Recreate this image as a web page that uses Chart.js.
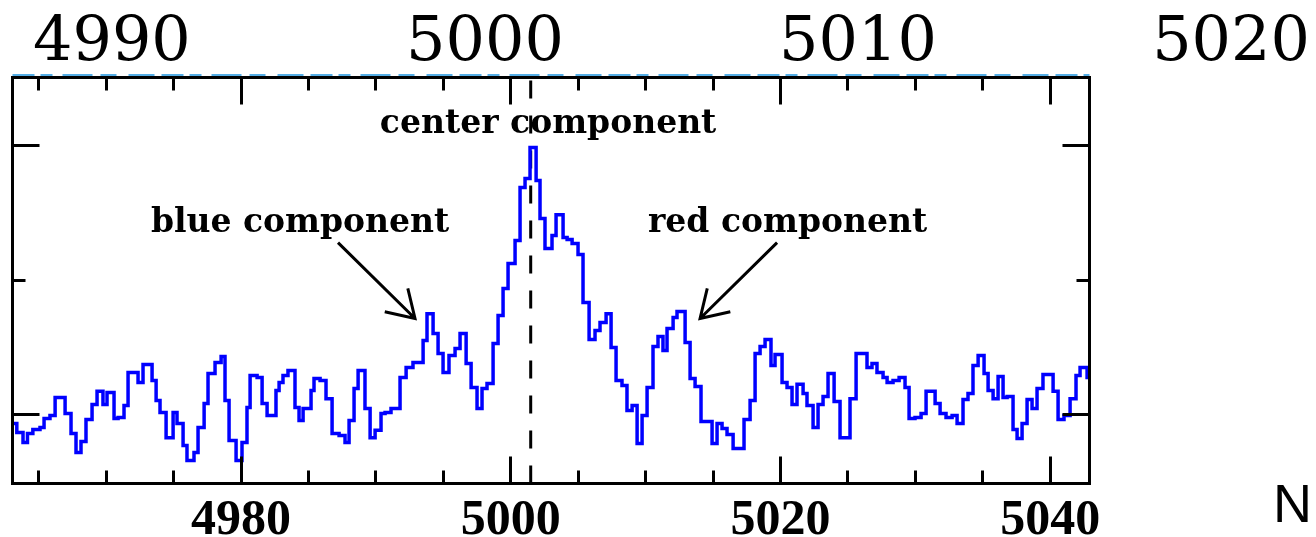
<!DOCTYPE html>
<html>
<head>
<meta charset="utf-8">
<script src="https://cdn.jsdelivr.net/npm/chart.js@4.4.0/dist/chart.umd.min.js"></script>
<style>
html,body{margin:0;padding:0;background:#fff;overflow:hidden}
#wrap{width:1316px;height:537px;position:relative}
</style>
</head>
<body>
<div id="wrap"><canvas id="c" width="1316" height="537"></canvas></div>
<script>
// ---- data (wavelength of left bin edge in Angstrom, normalised flux) ----
const wavelength = [
4963.06,4963.37,4963.83,4964.16,4964.56,4965.09,4965.39,4965.83,4966.21,4966.95,
4967.39,4967.76,4968.13,4968.50,4968.95,4969.32,4969.76,4970.06,4970.58,4970.88,
4971.32,4971.62,4972.36,4972.73,4973.40,4973.70,4973.99,4974.44,4974.96,4975.25,
4975.70,4975.99,4976.51,4976.81,4977.26,4977.55,4978.07,4978.52,4978.81,4979.11,
4979.63,4980.07,4980.44,4980.67,4981.19,4981.56,4981.93,4982.59,4982.82,4983.11,
4983.48,4984.00,4984.30,4984.60,4985.19,4985.41,4985.86,4986.30,4986.75,4987.27,
4987.71,4988.01,4988.38,4988.68,4989.19,4989.57,4989.94,4990.38,4990.68,4991.12,
4991.79,4992.24,4992.75,4993.50,4993.79,4994.24,4994.61,4994.98,4995.42,4995.87,
4996.24,4996.69,4997.06,4997.50,4997.87,4998.24,4998.69,4999.06,4999.43,4999.80,
5000.32,5000.69,5001.06,5001.43,5001.88,5002.17,5002.54,5003.06,5003.36,5003.88,
5004.18,5004.55,5004.99,5005.36,5005.81,5006.25,5006.62,5007.07,5007.44,5007.81,
5008.25,5008.62,5009.00,5009.37,5009.74,5010.11,5010.55,5010.92,5011.29,5011.59,
5012.04,5012.33,5012.93,5013.30,5013.67,5014.11,5014.93,5015.30,5015.67,5016.04,
5016.49,5017.30,5017.75,5018.12,5018.49,5018.86,5019.30,5019.60,5020.12,5020.49,
5020.86,5021.23,5021.68,5021.97,5022.42,5022.79,5023.16,5023.53,5023.98,5024.42,
5025.16,5025.61,5026.42,5026.79,5027.16,5027.61,5027.91,5028.35,5028.80,5029.24,
5029.54,5029.98,5030.43,5030.80,5031.47,5031.84,5032.28,5032.73,5033.10,5033.54,
5033.91,5034.28,5034.66,5035.10,5035.40,5035.77,5036.14,5036.51,5036.81,5037.25,
5037.55,5037.92,5038.29,5038.66,5039.03,5039.47,5040.22,5040.59,5041.03,5041.48,
5041.92,5042.22,5042.74
];
const flux = [
0.967,0.933,0.896,0.929,0.944,0.952,0.985,0.996,1.063,1.004,
0.929,0.859,0.900,0.981,1.037,1.086,1.037,1.082,0.985,0.989,
1.033,1.156,1.119,1.186,1.126,1.052,1.007,0.914,1.007,0.967,
0.885,0.829,0.859,0.952,1.041,1.152,1.193,1.216,1.052,0.903,
0.829,0.896,1.026,1.145,1.138,1.041,0.996,1.089,1.119,1.145,
1.164,1.026,0.978,1.022,1.089,1.134,1.126,1.059,0.929,0.922,
0.896,0.978,1.097,1.164,1.022,0.914,0.941,1.004,1.007,1.022,
1.138,1.175,1.193,1.275,1.375,1.301,1.227,1.156,1.219,1.245,
1.301,1.190,1.100,1.022,1.097,1.115,1.264,1.368,1.468,1.561,
1.647,1.844,1.877,1.993,1.870,1.729,1.617,1.665,1.743,1.658,
1.651,1.636,1.595,1.416,1.279,1.312,1.342,1.375,1.249,1.126,
1.108,1.015,1.033,0.892,0.996,1.100,1.253,1.290,1.238,1.320,
1.361,1.383,1.268,1.134,1.104,0.974,0.892,0.967,0.948,0.926,
0.874,0.981,1.052,1.227,1.253,1.279,1.182,1.223,1.119,1.100,
1.037,1.112,1.078,1.033,0.952,1.037,1.067,1.152,1.048,0.914,
1.059,1.227,1.175,1.190,1.156,1.138,1.119,1.126,1.138,1.100,
0.985,0.989,1.004,1.086,1.041,1.004,0.989,0.996,0.967,1.056,
1.078,1.182,1.219,1.152,1.089,1.059,1.141,1.063,1.067,0.944,
0.911,0.967,1.056,1.022,1.097,1.149,1.086,0.981,0.996,1.059,
1.145,1.175,1.138
];
const xMin = 4963.05, xMax = 5042.92;
const yMin = 0.7435, yMax = 2.2528;
const xMinorTicks = [4965,4970,4975,4980,4985,4990,4995,5000,5005,5010,5015,5020,5025,5030,5035,5040];
const xTickLabels = [4980,5000,5020,5040];
const yMajorTicks = [1.0, 2.0];
const yMinorTicks = [1.5];
const topTickLabels = [4990,5000,5010,5020];
const topMin = 4987.335, topMax = 5016.206;
const centerLine = 5001.48;
const annotations = [
  {text:'blue component', x:4984.38, y:1.677},
  {text:'red component', x:5020.53, y:1.677},
  {text:'center component', x:5002.77, y:2.048}
];
const arrows = [
  {x1:4987.19, y1:1.639, x2:4992.90, y2:1.357},
  {x1:5019.75, y1:1.639, x2:5014.04, y2:1.357}
];
const cornerText = 'N';

const specData = wavelength.map((w,i)=>({x:w, y:flux[i]}));
specData.push({x:xMax, y:flux[flux.length-1]});

const crisp = v => Math.round(v - 0.5) + 0.5;

const decor = {
  id:'decor',
  afterDraw(chart){
    const ctx = chart.ctx, a = chart.chartArea;
    const x = chart.scales.x, y = chart.scales.y, x2 = chart.scales.x2;
    ctx.save();
    // faint blue strip along top edge
    ctx.strokeStyle = '#55aee6'; ctx.lineWidth = 3;
    ctx.setLineDash([22,6,12,10,30,8,16,12,26,7]);
    ctx.beginPath(); ctx.moveTo(a.left, a.top-2); ctx.lineTo(a.right, a.top-2); ctx.stroke();
    ctx.setLineDash([]);
    // frame
    ctx.strokeStyle = '#000'; ctx.lineWidth = 3; ctx.lineCap = 'butt';
    ctx.strokeRect(a.left, a.top, a.right-a.left, a.bottom-a.top);
    // ticks
    ctx.beginPath();
    xMinorTicks.forEach(v=>{
      const px = crisp(x.getPixelForValue(v));
      const len = xTickLabels.includes(v) ? 27 : 13;
      ctx.moveTo(px, a.bottom); ctx.lineTo(px, a.bottom-len);
      ctx.moveTo(px, a.top); ctx.lineTo(px, a.top+len);
    });
    yMajorTicks.forEach(v=>{
      const py = crisp(y.getPixelForValue(v));
      ctx.moveTo(a.left, py); ctx.lineTo(a.left+27, py);
      ctx.moveTo(a.right, py); ctx.lineTo(a.right-27, py);
    });
    yMinorTicks.forEach(v=>{
      const py = crisp(y.getPixelForValue(v));
      ctx.moveTo(a.left, py); ctx.lineTo(a.left+13, py);
      ctx.moveTo(a.right, py); ctx.lineTo(a.right-13, py);
    });
    ctx.stroke();
    // bottom tick labels
    ctx.fillStyle = '#000';
    ctx.textAlign = 'center'; ctx.textBaseline = 'alphabetic';
    ctx.font = 'bold 50px "Liberation Serif"';
    xTickLabels.forEach(v=>{ ctx.fillText(String(v), x.getPixelForValue(v), 534); });
    // top labels (second wavelength scale)
    ctx.font = '62px "DejaVu Serif"';
    topTickLabels.forEach(v=>{ ctx.fillText(String(v), x2.getPixelForValue(v), 60); });
    // annotations
    ctx.font = 'bold 33px "DejaVu Serif"';
    annotations.forEach(t=>{ ctx.fillText(t.text, x.getPixelForValue(t.x), y.getPixelForValue(t.y)); });
    // arrows
    ctx.lineWidth = 3; ctx.lineJoin = 'miter';
    arrows.forEach(r=>{
      const X1 = x.getPixelForValue(r.x1), Y1 = y.getPixelForValue(r.y1);
      const X2 = x.getPixelForValue(r.x2), Y2 = y.getPixelForValue(r.y2);
      const ang = Math.atan2(Y2-Y1, X2-X1);
      const L = 31, h = 32*Math.PI/180;
      ctx.beginPath();
      ctx.moveTo(X1,Y1); ctx.lineTo(X2,Y2);
      ctx.moveTo(X2 - L*Math.cos(ang-h), Y2 - L*Math.sin(ang-h));
      ctx.lineTo(X2,Y2);
      ctx.lineTo(X2 - L*Math.cos(ang+h), Y2 - L*Math.sin(ang+h));
      ctx.stroke();
    });
    // corner letter
    ctx.textAlign = 'left';
    ctx.font = '54px "Liberation Sans"';
    ctx.fillText(cornerText, 1273, 522);
    ctx.restore();
  }
};

new Chart(document.getElementById('c').getContext('2d'), {
  type: 'line',
  data: {
    datasets: [
      {data: specData, stepped: 'before', borderColor: '#0000ff', borderWidth: 3.5,
       pointRadius: 0, fill: false, tension: 0, borderJoinStyle: 'miter'},
      {data: [{x:centerLine, y:yMin},{x:centerLine, y:yMax}], borderColor: '#000',
       borderWidth: 3, borderDash: [18,17], pointRadius: 0, fill: false}
    ]
  },
  options: {
    responsive: false, animation: false, devicePixelRatio: 1,
    layout: {padding: {left: 12.5, right: 226.5, top: 77.5, bottom: 53.5}},
    plugins: {legend: {display: false}, tooltip: {enabled: false}},
    scales: {
      x: {type: 'linear', min: xMin, max: xMax, display: false},
      y: {type: 'linear', min: yMin, max: yMax, display: false},
      x2: {type: 'linear', position: 'top', min: topMin, max: topMax, display: false}
    }
  },
  plugins: [decor]
});
</script>
</body>
</html>
